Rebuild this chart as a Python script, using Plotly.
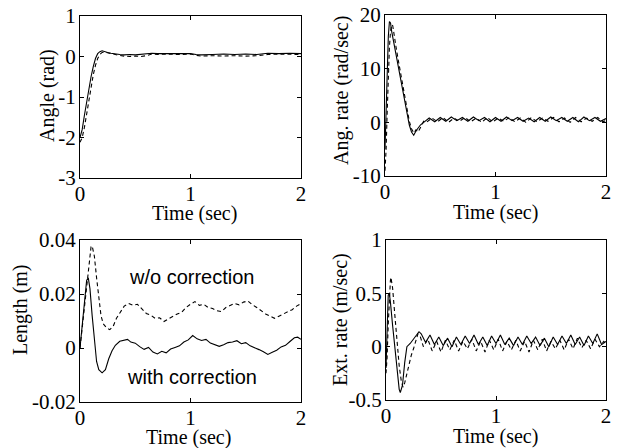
import plotly.graph_objects as go

# ---------------- data ----------------
# Angle (rad)
ang_t_s = [0, 0.02, 0.04, 0.06, 0.08, 0.10, 0.12, 0.14, 0.16, 0.18, 0.20, 0.22, 0.25, 0.28, 0.32, 0.36, 0.40,
           0.45, 0.50, 0.55, 0.60, 0.65, 0.70, 0.80, 0.90, 1.00, 1.05, 1.10, 1.20, 1.30, 1.40, 1.50, 1.60, 1.70,
           1.80, 1.90, 2.00]
ang_s = [-2.00, -1.80, -1.45, -1.10, -0.80, -0.50, -0.25, -0.05, 0.07, 0.12, 0.14, 0.13, 0.10, 0.08, 0.06, 0.05,
         0.04, 0.05, 0.04, 0.05, 0.06, 0.08, 0.07, 0.07, 0.08, 0.07, 0.05, 0.04, 0.05, 0.06, 0.05, 0.06, 0.05,
         0.08, 0.07, 0.08, 0.07]
ang_t_d = [0, 0.02, 0.04, 0.06, 0.08, 0.10, 0.12, 0.14, 0.16, 0.18, 0.20, 0.22, 0.25, 0.30, 0.35, 0.40, 0.45,
           0.50, 0.55, 0.60, 0.65, 0.70, 0.80, 0.90, 1.00, 1.05, 1.10, 1.20, 1.30, 1.40, 1.50, 1.60, 1.70, 1.80,
           1.90, 2.00]
ang_d = [-2.12, -2.00, -1.75, -1.40, -1.05, -0.75, -0.45, -0.22, -0.05, 0.05, 0.10, 0.11, 0.09, 0.06, 0.03,
         0.01, 0.00, 0.01, 0.00, 0.02, 0.06, 0.05, 0.06, 0.05, 0.06, 0.03, 0.01, 0.02, 0.01, 0.02, 0.01, 0.02,
         0.05, 0.06, 0.06, 0.05]

# Angular rate (rad/sec)
rate_t_s = [0, 0.01, 0.02, 0.03, 0.04, 0.05, 0.06, 0.08, 0.10, 0.12, 0.14, 0.16, 0.18, 0.20, 0.22, 0.24, 0.26,
            0.28, 0.30, 0.32, 0.35, 0.40, 0.45, 0.50, 0.55, 0.60, 0.65, 0.70, 0.75, 0.80, 0.85, 0.90, 0.95,
            1.00, 1.05, 1.10, 1.15, 1.20, 1.25, 1.30, 1.35, 1.40, 1.45, 1.50, 1.55, 1.60, 1.65, 1.70, 1.75,
            1.80, 1.85, 1.90, 1.95, 2.00]
rate_s = [-5, 2, 10, 16, 18.8, 18.5, 17, 14.8, 12.6, 10.3, 8.0, 5.7, 3.4, 1.2, -0.5, -1.8, -2.4, -1.6, -1.0,
          -0.5, 0.0, 0.8, 0.1, 0.9, 0.2, 1.0, 0.3, 0.9, 0.2, 1.0, 0.3, 0.9, 0.1, 0.9, 0.2, 1.0, 0.3, 0.9,
          0.2, 0.8, 0.1, 0.9, 0.2, 1.0, 0.3, 0.9, 0.2, 0.9, 0.1, 1.0, 0.3, 0.9, 0.2, 0.7]
rate_t_d = [0, 0.01, 0.02, 0.03, 0.04, 0.05, 0.06, 0.07, 0.08, 0.10, 0.12, 0.14, 0.16, 0.18, 0.20, 0.22, 0.24,
            0.26, 0.28, 0.30, 0.33, 0.35, 0.375, 0.425, 0.475, 0.525, 0.575, 0.625, 0.675, 0.725, 0.775,
            0.825, 0.875, 0.925, 0.975, 1.025, 1.075, 1.125, 1.175, 1.225, 1.275, 1.325, 1.375, 1.425,
            1.475, 1.525, 1.575, 1.625, 1.675, 1.725, 1.775, 1.825, 1.875, 1.925, 1.975, 2.00]
rate_d = [-9, -5, 2, 9, 14, 17, 18.2, 18, 16.5, 14.0, 11.6, 9.2, 6.8, 4.4, 2.0, 0.2, -1.2, -2.0, -1.4, -1.8,
          -0.6, 0.2, 0.0, 0.8, 0.1, 0.9, 0.0, 0.8, 0.2, 0.9, 0.1, 0.8, 0.0, 0.9, 0.1, 0.8, 0.2, 0.9, 0.1,
          0.8, 0.0, 0.9, 0.1, 0.8, 0.2, 0.9, 0.1, 0.8, 0.0, 0.9, 0.1, 0.8, 0.2, 0.9, 0.1, 0.4]

# Length (m)
len_t_s = [0, 0.02, 0.04, 0.06, 0.075, 0.09, 0.11, 0.13, 0.15, 0.17, 0.20, 0.23, 0.26, 0.29, 0.32, 0.36, 0.40,
           0.43, 0.46, 0.50, 0.54, 0.58, 0.62, 0.66, 0.70, 0.74, 0.78, 0.82, 0.86, 0.90, 0.94, 0.98, 1.02,
           1.06, 1.10, 1.14, 1.18, 1.22, 1.26, 1.30, 1.34, 1.38, 1.42, 1.46, 1.50, 1.54, 1.58, 1.62, 1.66,
           1.70, 1.74, 1.78, 1.82, 1.86, 1.90, 1.94, 1.97, 2.00]
len_s = [0.000, 0.008, 0.018, 0.025, 0.026, 0.022, 0.012, 0.002, -0.005, -0.008, -0.0092, -0.008, -0.004,
         -0.001, 0.001, 0.0025, 0.003, 0.0032, 0.0022, 0.0018, 0.0005, -0.0005, 0.0002, -0.0015, -0.0022,
         -0.0012, -0.0018, -0.0004, 0.0002, 0.0008, 0.0022, 0.0030, 0.0046, 0.0034, 0.0028, 0.0032, 0.0018,
         0.0012, 0.0006, 0.0012, 0.0020, 0.0022, 0.0027, 0.0016, 0.0020, 0.0008, 0.0002, -0.0006, -0.0014,
         -0.0024, -0.0016, -0.0008, 0.0004, 0.0010, 0.0024, 0.0038, 0.0040, 0.0032]
len_t_d = [0, 0.02, 0.04, 0.06, 0.08, 0.10, 0.11, 0.13, 0.15, 0.17, 0.19, 0.21, 0.24, 0.27, 0.30, 0.33, 0.36,
           0.40, 0.44, 0.48, 0.52, 0.56, 0.60, 0.64, 0.68, 0.72, 0.76, 0.80, 0.84, 0.88, 0.92, 0.96, 1.00,
           1.04, 1.08, 1.12, 1.16, 1.20, 1.24, 1.28, 1.32, 1.36, 1.40, 1.44, 1.48, 1.52, 1.56, 1.60, 1.64,
           1.68, 1.72, 1.76, 1.80, 1.84, 1.88, 1.92, 1.96, 2.00]
len_d = [0.000, 0.008, 0.016, 0.024, 0.032, 0.0375, 0.0378, 0.034, 0.026, 0.018, 0.012, 0.009, 0.0075, 0.0068,
         0.008, 0.011, 0.013, 0.0155, 0.0165, 0.0158, 0.0162, 0.0145, 0.0128, 0.0122, 0.0110, 0.0112, 0.0098,
         0.0108, 0.0118, 0.0126, 0.0132, 0.0150, 0.0162, 0.0172, 0.0158, 0.0162, 0.0150, 0.0146, 0.0138,
         0.0135, 0.0150, 0.0158, 0.0165, 0.0160, 0.0170, 0.0174, 0.0160, 0.0150, 0.0138, 0.0126, 0.0118,
         0.0110, 0.0118, 0.0126, 0.0132, 0.0142, 0.0155, 0.0165]

# Extension rate (m/sec)
ext_t_s = [0, 0.01, 0.02, 0.03, 0.04, 0.06, 0.08, 0.10, 0.12, 0.13, 0.15, 0.17, 0.19, 0.22, 0.24, 0.27, 0.30,
           0.32, 0.36, 0.40, 0.44, 0.48, 0.52, 0.56, 0.60, 0.64, 0.68, 0.72, 0.76, 0.80, 0.84, 0.88, 0.92,
           0.96, 1.00, 1.04, 1.08, 1.12, 1.16, 1.20, 1.24, 1.28, 1.32, 1.36, 1.40, 1.44, 1.48, 1.52, 1.56,
           1.60, 1.64, 1.68, 1.72, 1.76, 1.80, 1.84, 1.88, 1.92, 1.96, 2.00]
ext_s = [-0.20, 0.20, 0.48, 0.50, 0.42, 0.20, 0.00, -0.25, -0.40, -0.43, -0.36, -0.15, 0.00, 0.03, 0.06, 0.10,
         0.14, 0.12, 0.04, 0.11, 0.02, 0.09, 0.01, 0.08, 0.00, 0.09, 0.02, 0.10, 0.03, 0.11, 0.02, 0.09,
         0.01, 0.10, 0.03, 0.11, 0.02, 0.08, 0.01, 0.09, 0.02, 0.10, 0.03, 0.09, 0.01, 0.08, 0.00, 0.09,
         0.02, 0.10, 0.03, 0.11, 0.02, 0.09, 0.01, 0.10, 0.03, 0.12, 0.02, 0.05]
ext_t_d = [0, 0.01, 0.02, 0.03, 0.04, 0.045, 0.06, 0.08, 0.10, 0.12, 0.14, 0.155, 0.17, 0.19, 0.21, 0.23, 0.25,
           0.27, 0.29, 0.31, 0.34, 0.38, 0.42, 0.46, 0.50, 0.54, 0.58, 0.62, 0.66, 0.70, 0.74, 0.78, 0.82,
           0.86, 0.90, 0.94, 0.98, 1.02, 1.06, 1.10, 1.14, 1.18, 1.22, 1.26, 1.30, 1.34, 1.38, 1.42, 1.46,
           1.50, 1.54, 1.58, 1.62, 1.66, 1.70, 1.74, 1.78, 1.82, 1.86, 1.90, 1.94, 1.98, 2.00]
ext_d = [-0.25, -0.10, 0.20, 0.45, 0.62, 0.65, 0.55, 0.30, 0.05, -0.18, -0.33, -0.38, -0.34, -0.25, -0.18,
         -0.08, -0.02, 0.06, 0.12, 0.10, 0.00, 0.07, -0.04, 0.05, -0.05, 0.06, -0.03, 0.06, -0.04, 0.05,
         -0.02, 0.07, -0.04, 0.05, -0.05, 0.06, -0.03, 0.07, -0.04, 0.05, -0.03, 0.06, -0.04, 0.05, -0.05,
         0.06, -0.03, 0.07, -0.04, 0.05, -0.02, 0.06, -0.03, 0.07, -0.02, 0.08, -0.01, 0.06, -0.02, 0.07,
         0.00, 0.05, 0.02]

# axis ticks
x_ticks = [0, 1, 2]
x_ticktext = ["0", "1", "2"]
ang_ticks = [1, 0, -1, -2, -3]
ang_ticktext = ["1", "0", "-1", "-2", "-3"]
rate_ticks = [20, 10, 0, -10]
rate_ticktext = ["20", "10", "0", "-10"]
len_ticks = [0.04, 0.02, 0, -0.02]
len_ticktext = ["0.04", "0.02", "0", "-0.02"]
ext_ticks = [1, 0.5, 0, -0.5]
ext_ticktext = ["1", "0.5", "0", "-0.5"]

x_title = "Time (sec)"
y_titles = ["Angle (rad)", "Ang. rate (rad/sec)", "Length (m)", "Ext. rate (m/sec)"]
notes = ["w/o correction", "with correction"]

# ---------------- figure ----------------
W, H = 618, 448
SERIF = "Liberation Serif"
SANS = "Liberation Sans"


def px(X):
    return X / W


def py(Y):
    return 1 - Y / H


# screen-pixel boxes: (x0, x1, ytop, ybottom)
boxes = [(80, 301, 16, 178), (385, 606, 15, 176), (80, 301, 240, 402), (386, 606, 240, 400)]

fig = go.Figure()
panels = [
    (ang_t_s, ang_s, ang_t_d, ang_d, [-3, 1], ang_ticks, ang_ticktext),
    (rate_t_s, rate_s, rate_t_d, rate_d, [-10, 20], rate_ticks, rate_ticktext),
    (len_t_s, len_s, len_t_d, len_d, [-0.02, 0.04], len_ticks, len_ticktext),
    (ext_t_s, ext_s, ext_t_d, ext_d, [-0.5, 1], ext_ticks, ext_ticktext),
]

for i, (ts, ys, td, yd, yr, yt, ytt) in enumerate(panels):
    n = "" if i == 0 else str(i + 1)
    fig.add_trace(go.Scatter(x=ts, y=ys, mode="lines", xaxis="x" + n, yaxis="y" + n,
                             line=dict(color="black", width=1.1), showlegend=False))
    fig.add_trace(go.Scatter(x=td, y=yd, mode="lines", xaxis="x" + n, yaxis="y" + n,
                             line=dict(color="black", width=1.1, dash="4px,3px"), showlegend=False))
    x0, x1, yt0, yb0 = boxes[i]
    common = dict(showgrid=False, zeroline=False, showline=True, linecolor="black", linewidth=1,
                  mirror="ticks", ticks="inside", ticklen=4, tickcolor="black", automargin=False,
                  ticklabeloverflow="allow", tickfont=dict(family=SERIF, size=21, color="black"))
    fig.update_layout(**{
        "xaxis" + n: dict(domain=[px(x0), px(x1)], range=[0, 2], tickvals=x_ticks, ticktext=x_ticktext,
                          anchor="y" + n, ticklabelstandoff=-3, **common),
        "yaxis" + n: dict(domain=[py(yb0), py(yt0)], range=yr, tickvals=yt, ticktext=ytt,
                          anchor="x" + n, ticklabelstandoff=-1, **common),
    })

# axis titles as annotations (screen-pixel centers)
xt_pos = [(194, 213), (495, 212), (188, 437), (495, 436)]
yt_pos = [(47, 96), (341, 91), (20, 310), (340, 320)]
ann = []
for i in range(4):
    ann.append(dict(x=px(xt_pos[i][0]), y=py(xt_pos[i][1]), xref="paper", yref="paper", text=x_title,
                    showarrow=False, font=dict(family=SERIF, size=20, color="black"),
                    xanchor="center", yanchor="middle"))
    ann.append(dict(x=px(yt_pos[i][0]), y=py(yt_pos[i][1]), xref="paper", yref="paper", text=y_titles[i],
                    showarrow=False, textangle=-90, font=dict(family=SERIF, size=20, color="black"),
                    xanchor="center", yanchor="middle"))
ann.append(dict(x=px(192), y=py(277), xref="paper", yref="paper", text=notes[0], showarrow=False,
                font=dict(family=SANS, size=20, color="black"), xanchor="center", yanchor="middle"))
ann.append(dict(x=px(192), y=py(377), xref="paper", yref="paper", text=notes[1], showarrow=False,
                font=dict(family=SANS, size=20, color="black"), xanchor="center", yanchor="middle"))

fig.update_layout(width=W, height=H, margin=dict(l=0, r=0, t=0, b=0, pad=0), paper_bgcolor="white",
                  plot_bgcolor="white", annotations=ann, showlegend=False)

# remove the default 8px page margin so the figure fills the 618x448 window exactly
fig.write_html("out.html", config={"displayModeBar": False},
               post_script="document.body.style.margin='0';document.body.style.overflow='hidden';")
